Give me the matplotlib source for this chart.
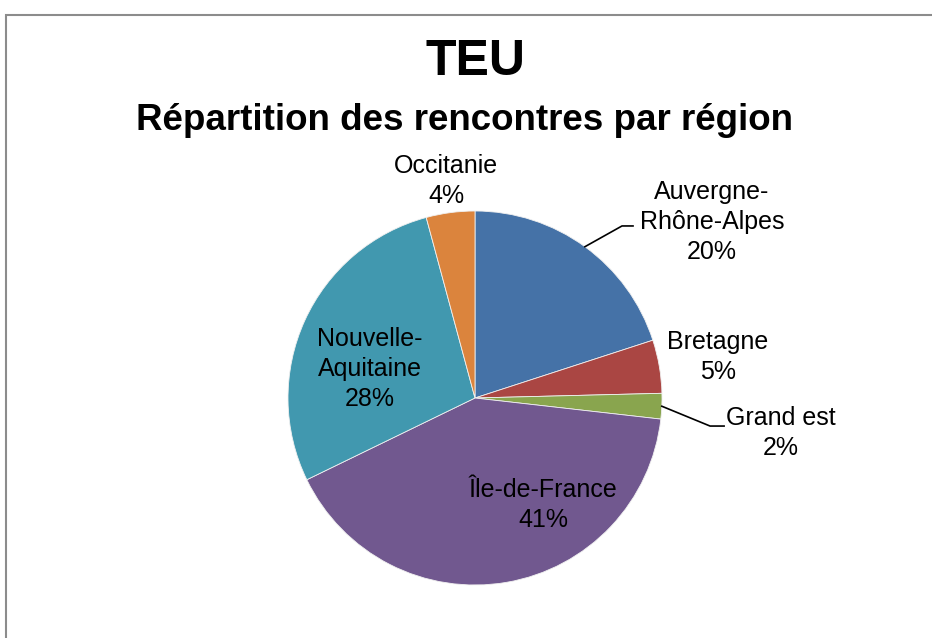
import matplotlib.pyplot as plt
import numpy as np
from matplotlib.patches import Rectangle

plt.rcParams['font.family'] = ['Liberation Sans', 'DejaVu Sans']

# Data (percent of meetings per region)
regions = ['Auvergne-\nRhône-Alpes', 'Bretagne', 'Grand est', 'Île-de-France',
           'Nouvelle-\nAquitaine', 'Occitanie']
shares = [20.0, 4.6, 2.2, 41.0, 28.0, 4.2]
colors = ['#4572A7', '#AA4643', '#89A54E', '#71588F', '#4198AF', '#DB843D']

# label centres (pie radius units) and whether a leader line is drawn
label_pos = [(1.267, 0.941), (1.299, 0.219), (1.636, -0.187),
             (0.364, -0.572), (-0.561, 0.155), (-0.155, 1.160)]
leaders = {0: (0.786, 0.920, 0.845), 2: (1.257, -0.150, 1.332)}

W, H = 932, 638
fig = plt.figure(figsize=(W / 100, H / 100), dpi=100)

# outer chart frame
fig.patches.append(Rectangle((6 / W, -0.1), 1.2, 1.1 - 15 / H, transform=fig.transFigure,
                             fill=False, edgecolor='#8c8c8c', linewidth=1.5))

# axes so the pie centre sits at (475, 398) px with radius 187 px
cx, cy, r = 475, 398, 187
ax = fig.add_axes([0, 0, 1, 1])
wedges, _ = ax.pie(shares, colors=colors, startangle=90, counterclock=False,
                   wedgeprops=dict(edgecolor='#f0f0f0', linewidth=0.6))
ax.set_xlim(-cx / r, (W - cx) / r)
ax.set_ylim(-(H - cy) / r, cy / r)
ax.set_aspect('equal')
ax.axis('off')

total = sum(shares)
for i, (name, val) in enumerate(zip(regions, shares)):
    x, y = label_pos[i]
    ax.text(x, y, f"{name}\n{round(val / total * 100):.0f}%", ha='center', va='center',
            fontsize=18, linespacing=1.3, color='black')
    if i in leaders:
        w = wedges[i]
        mid = np.deg2rad((w.theta1 + w.theta2) / 2)
        ex, ey, hx = leaders[i]
        ax.plot([np.cos(mid), ex, hx], [np.sin(mid), ey, ey], color='black', lw=1.2)

fig.text(476 / W, 1 - 62 / H, 'TEU', ha='center', va='center', fontsize=36, fontweight='bold')
fig.text(465 / W, 1 - 120 / H, 'Répartition des rencontres par région', ha='center',
         va='center', fontsize=26.5, fontweight='bold')

fig.savefig('out.png', dpi=100)
